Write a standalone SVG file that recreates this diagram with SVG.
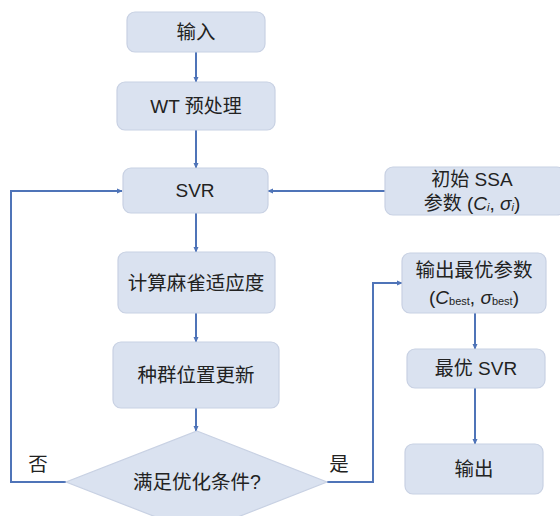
<svg xmlns="http://www.w3.org/2000/svg" width="560" height="516" viewBox="0 0 560 516">
<defs>
<marker id="ah" viewBox="0 0 8 8" refX="7" refY="4" markerWidth="6" markerHeight="6" orient="auto" markerUnits="userSpaceOnUse">
<path d="M0,0.5 L8,4 L0,7.5 Z" fill="#4f74b8"/>
</marker>
<style>
.box{fill:#dae2f0;stroke:#c8d1e3;stroke-width:1.2}
.t{font-family:"Liberation Sans","Noto Sans CJK SC",sans-serif;font-size:19px;fill:#222;text-anchor:middle;dominant-baseline:central}
.zh{font-size:19.5px}
.c{fill:none;stroke:#4f74b8;stroke-width:2;marker-end:url(#ah)}
</style>
</defs>
<rect width="560" height="516" fill="#fff"/>
<g id="connectors">
<path class="c" d="M196,52 V82"/>
<path class="c" d="M196,130 V168"/>
<path class="c" d="M385,191 H268"/>
<path class="c" d="M196,213 V252"/>
<path class="c" d="M196,313 V342"/>
<path class="c" d="M196,408 V431"/>
<path class="c" d="M66,482 H11 V191 H122"/>
<path class="c" d="M327,482 H373 V283 H402"/>
<path class="c" d="M475,313 V349"/>
<path class="c" d="M475,388 V444"/>
</g>
<g id="n_input"><rect class="box" x="127" y="12" width="138" height="40" rx="8"/><text class="t zh" x="196" y="32">输入</text></g>
<g id="n_wt"><rect class="box" x="117" y="82" width="158" height="48" rx="8"/><text class="t" x="196" y="106">WT 预处理</text></g>
<g id="n_svr"><rect class="box" x="123" y="168" width="145" height="45" rx="8"/><text class="t" x="195" y="190">SVR</text></g>
<g id="n_ssa"><rect class="box" x="385" y="167" width="180" height="48" rx="8"/><text class="t" x="472" y="179">初始 SSA</text><text class="t" x="472" y="203">参数 (<tspan font-style="italic">C</tspan><tspan font-style="italic" font-size="11" dy="4">i</tspan><tspan dy="-4">, </tspan><tspan font-style="italic">σ</tspan><tspan font-style="italic" font-size="11" dy="4">i</tspan><tspan dy="-4">)</tspan></text></g>
<g id="n_fit"><rect class="box" x="118" y="252" width="157" height="61" rx="8"/><text class="t zh" x="196" y="283">计算麻雀适应度</text></g>
<g id="n_pop"><rect class="box" x="113" y="342" width="166" height="66" rx="8"/><text class="t zh" x="196" y="375">种群位置更新</text></g>
<g id="n_cond"><polygon class="box" points="197,431 327,482 197,533 66,482"/><text class="t zh" x="197" y="482">满足优化条件?</text></g>
<g id="n_best"><rect class="box" x="402" y="253" width="144" height="60" rx="8"/><text class="t zh" x="474" y="270">输出最优参数</text><text class="t" x="474" y="297">(<tspan font-style="italic">C</tspan><tspan font-size="11" dy="4">best</tspan><tspan dy="-4">, </tspan><tspan font-style="italic">σ</tspan><tspan font-size="11" dy="4">best</tspan><tspan dy="-4">)</tspan></text></g>
<g id="n_bsvr"><rect class="box" x="407" y="349" width="138" height="39" rx="8"/><text class="t" x="476" y="368">最优 SVR</text></g>
<g id="n_out"><rect class="box" x="405" y="444" width="138" height="50" rx="8"/><text class="t zh" x="474" y="469">输出</text></g>
<g id="labels"><text class="t zh" x="38" y="464">否</text><text class="t zh" x="339" y="464">是</text></g>
</svg>
